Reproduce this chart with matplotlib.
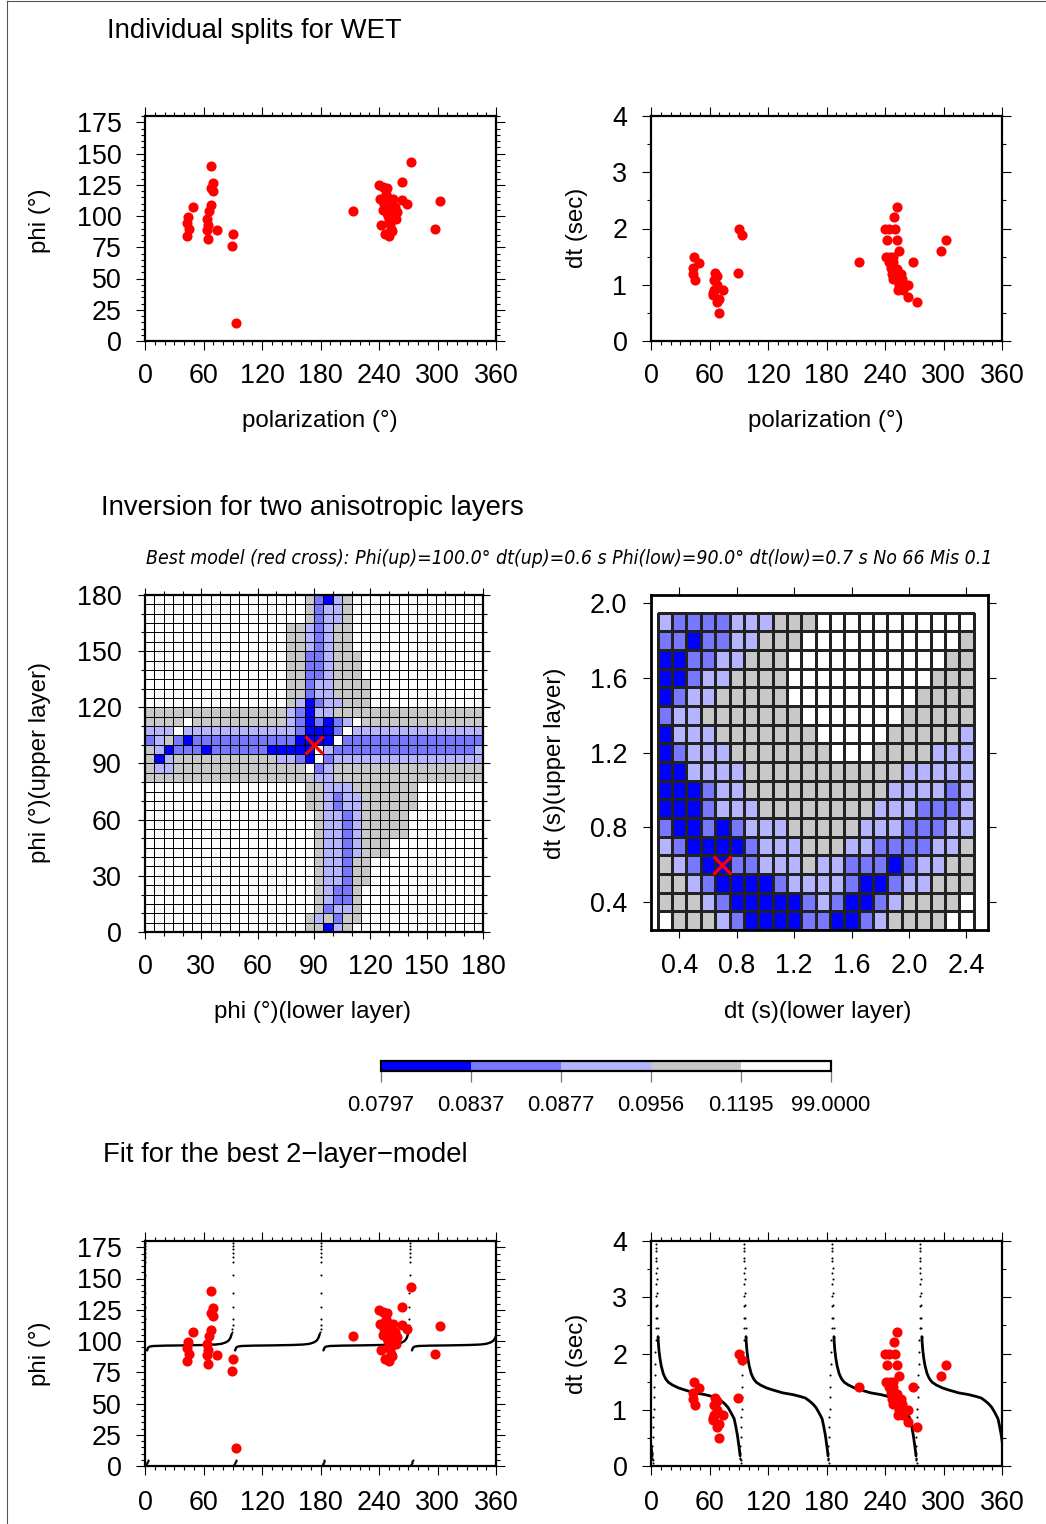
import numpy as np
import matplotlib
matplotlib.use("Agg")
import matplotlib.pyplot as plt
from matplotlib.colors import ListedColormap, BoundaryNorm
from matplotlib.colorbar import ColorbarBase
from matplotlib.lines import Line2D
from matplotlib.ticker import MultipleLocator, FixedLocator, FormatStrFormatter
from matplotlib import font_manager

plt.rcParams["font.family"] = ["Liberation Sans", "DejaVu Sans"]

W, H = 1046, 1524

# ---------------------------------------------------------------- data
station = "WET"

# individual splitting measurements (polarization, fast axis, delay time)
polarization = [42.7, 43.4, 44.4, 45.1, 49.6, 63.3, 63.8, 64.9, 64.9, 66.0,
                67.4, 67.7, 67.7, 70.1, 70.1, 73.5, 89.6, 90.6, 93.3,
                213.7, 240.0, 241.0, 242.0, 244.0, 244.5, 245.0, 246.0, 247.0, 248.0,
                248.0, 248.0, 249.0, 249.5, 250.0, 250.5, 251.0, 252.0, 252.4, 252.6,
                253.4, 254.0, 254.7, 256.0, 257.0, 258.0, 263.3, 263.6, 269.0, 272.8,
                297.4, 302.6]
fast_axis = [83.9, 94.8, 99.3, 90.0, 107.3, 89.2, 97.5, 92.7, 81.3, 104.1,
             109.2, 122.8, 140.0, 126.5, 120.0, 89.2, 75.9, 85.3, 14.6,
             104.4, 125.2, 113.7, 93.2, 123.3, 104.7, 110.0, 85.5, 118.0, 122.5,
             115.3, 102.4, 100.0, 108.0, 84.0, 96.0, 94.0, 112.0, 105.0, 90.0,
             88.0, 101.6, 114.0, 107.5, 98.0, 103.0, 112.5, 127.0, 110.0, 143.0,
             90.0, 112.0]
delay_time = [1.19, 1.29, 1.50, 1.09, 1.39, 0.81, 0.85, 0.90, 1.09, 1.21,
              1.15, 1.00, 0.70, 0.50, 0.75, 0.90, 1.21, 1.99, 1.89,
              1.40, 2.00, 1.50, 1.80, 2.00, 1.40, 1.50, 1.30, 1.20, 1.50,
              1.10, 1.40, 2.20, 1.28, 1.20, 2.00, 1.10, 1.80, 2.39, 1.28,
              0.90, 1.00, 1.60, 1.20, 1.10, 0.90, 1.00, 0.79, 1.40, 0.70,
              1.60, 1.80]

# best two-layer model
best_phi_up, best_dt_up = 100.0, 0.6
best_phi_low, best_dt_low = 90.0, 0.7
n_meas, best_misfit = 66, 0.1

# misfit classes (0 = lowest ... 4 = highest)
misfit_levels = [0.0797, 0.0837, 0.0877, 0.0956, 0.1195, 99.0]
misfit_colors = ["#0000ff", "#7878ff", "#b4b4ff", "#c8c8c8", "#ffffff"]

# grid search over fast axes; rows: phi upper from 180 down to 0, columns: phi lower 0..180
phi_step = 5
misfit_phi_rows = [
    "444444444444444443102344444444444444",
    "444444444444444443122344444444444444",
    "444444444444444443122344444444444444",
    "444444444444444332123344444444444444",
    "444444444444444332123344444444444444",
    "444444444444444332123344444444444444",
    "444444444444444331123334444444444444",
    "444444444444444331123334444444444444",
    "444444444444444331123334444444444444",
    "444444444444444331223333444444444444",
    "444444444444444331223333444444444444",
    "444444444444444320122333444444444444",
    "333333333333333210223333333333333333",
    "333343333333333210101243333333333333",
    "222422222222222210001422222222222222",
    "123101111111111100004111111111111111",
    "320111011111100000421111111111111112",
    "302333333333332210412222222222222222",
    "322333333333333334123333333333333333",
    "333333333333333333223333333333333333",
    "444444444444444443322233333334444444",
    "444444444444444443321223333334444444",
    "444444444444444443321223333334444444",
    "444444444444444444322123333344444444",
    "444444444444444444322123333344444444",
    "444444444444444444322123333344444444",
    "444444444444444444322123334444444444",
    "444444444444444444322123334444444444",
    "444444444444444444322133444444444444",
    "444444444444444444322133444444444444",
    "444444444444444444322133444444444444",
    "444444444444444444321134444444444444",
    "444444444444444444321134444444444444",
    "444444444444444444312234444444444444",
    "444444444444444443231334444444444444",
    "444444444444444443302344444444444444",
]

# grid search over delay times; rows: dt upper 1.9 .. 0.3, columns: dt lower 0.3 .. 2.4
dt_up_values = [1.9, 1.8, 1.7, 1.6, 1.5, 1.4, 1.3, 1.2, 1.1, 1.0, 0.9, 0.8, 0.7, 0.6, 0.5, 0.4, 0.3]
dt_low_values = [0.3, 0.4, 0.5, 0.6, 0.7, 0.8, 0.9, 1.0, 1.1, 1.2, 1.3, 1.4, 1.5, 1.6,
                 1.7, 1.8, 1.9, 2.0, 2.1, 2.2, 2.3, 2.4]
misfit_dt_rows = [
    "2111122233344444444444",
    "1101122333444444444443",
    "0011223334444444444433",
    "0012233334444444444333",
    "0122333334444444443333",
    "1223333333444444433333",
    "0222333333344444333332",
    "0122233333334443333222",
    "0022223333333333322222",
    "0001223333333333222212",
    "0001222333333332221112",
    "1001012223333322211122",
    "2100001222333221111223",
    "3210011222322111012233",
    "3321000012222100122333",
    "3332100000121001233334",
    "4333210000110012333344",
]

# predicted apparent splitting of the best model (one branch per wrap position)
phi_wrap_pol = [-90.0, 0.6, 90.9, 181.5, 272.3]
phi_branch_offset = [1.5, 2.5, 4, 8, 20, 40, 60, 72, 78, 82, 85, 87, 88.3]
phi_branch_value = [92.5, 94.5, 95.5, 96.0, 96.3, 96.5, 96.8, 97.2, 97.8, 98.8, 100.2, 102.5, 105.5]
phi_dot_offset = [88.8, 89.1, 89.3, 89.5, 89.6, 89.7, 89.8, 89.85, 89.9, 89.93, 89.95, 89.97, 89.99,
                  0.4, 0.8, 1.2, 1.6, 2.0, 2.4]
phi_dot_value = [107, 109.5, 112.5, 118, 127, 138.5, 152.5, 163, 167, 170.5, 173.7, 176.4, 178.8,
                 0.5, 1.5, 2.5, 3.5, 4.3, 5.0]

dt_wrap_pol = [-85.2, 5.0, 95.2, 185.4, 275.6]
dt_branch_offset = [2.2, 2.5, 3.2, 4.2, 5.5, 7.6, 10, 12.7, 17, 23, 30, 40, 50, 57, 63, 67,
                    71, 74, 77, 80.3, 82, 83.7, 84.8, 85.6, 86.4]
dt_branch_value = [2.30, 2.20, 2.05, 1.91, 1.78, 1.64, 1.55, 1.49, 1.44, 1.39, 1.35, 1.30,
                   1.27, 1.24, 1.21, 1.16, 1.10, 1.04, 0.95, 0.84, 0.70, 0.54, 0.40, 0.30, 0.18]
dt_dot_offset = [-3.6, -3.6, -3.6, -3.3, -2.9, -2.6, -2.3, -1.9, -1.6, -1.4, -0.9, -0.6, -0.3,
                 -0.1, 0.0, 0.0, 0.0, 0.0, 0.0, 0.0, 0.0, 0.0,
                 0.4, 0.6, 0.8, 1.0, 1.1, 1.4, 1.6, 1.8, 2.1, 86.6, 86.8, 87.0]
dt_dot_value = [0.13, 0.24, 0.36, 0.51, 0.69, 0.87, 1.01, 1.22, 1.40, 1.61, 1.82, 2.03, 2.24,
                2.45, 2.63, 2.84, 3.02, 3.23, 3.43, 3.64, 3.82, 3.95,
                3.88, 3.70, 3.52, 3.32, 3.08, 2.87, 2.63, 2.45, 2.30, 0.14, 0.10, 0.06]

# ---------------------------------------------------------------- helpers
fig = plt.figure(figsize=(W / 100, H / 100), dpi=100)
fig.patch.set_facecolor("white")

LABEL_FS = 19.4
AXLABEL_FS = 17.4
TITLE_FS = 19.8


def add_axes_px(x0, y0, x1, y1):
    return fig.add_axes([x0 / W, 1 - y1 / H, (x1 - x0) / W, (y1 - y0) / H])


def fig_text(x, y, s, **kw):
    return fig.text(x / W, 1 - y / H, s, **kw)


def style_frame(ax, lw=1.6, major=6.5, minor=3.2, pad_x=9.0, pad_y=10.5):
    for sp in ax.spines.values():
        sp.set_linewidth(lw)
    ax.tick_params(which="both", direction="out", top=True, right=True,
                   width=0.8, colors="black", labelsize=LABEL_FS)
    ax.tick_params(which="major", length=major)
    ax.tick_params(which="minor", length=minor)
    ax.tick_params(axis="x", pad=pad_x)
    ax.tick_params(axis="y", pad=pad_y)


def polarization_axes(ax, ytop, ymajor, yminor):
    ax.set_xlim(0, 360)
    ax.set_ylim(0, ytop)
    ax.xaxis.set_major_locator(MultipleLocator(60))
    ax.xaxis.set_minor_locator(MultipleLocator(10))
    ax.yaxis.set_major_locator(MultipleLocator(ymajor))
    ax.yaxis.set_minor_locator(MultipleLocator(yminor))
    style_frame(ax)


def plot_splits(ax, values):
    ax.plot(polarization, values, "o", color="red", ms=7.3, mec="none", zorder=5)


def condensed_italic():
    """Pick a narrow oblique face when one is installed."""
    options = [dict(family="Liberation Sans Narrow", style="italic"),
               dict(family="DejaVu Sans", stretch="condensed", style="oblique")]
    for opt in options:
        fp = font_manager.FontProperties(**opt)
        try:
            path = font_manager.findfont(fp, fallback_to_default=False)
        except ValueError:
            continue
        if "Narrow" in path or "Condensed" in path:
            return fp
    return font_manager.FontProperties(family=["Liberation Sans", "DejaVu Sans"], style="italic")


# ---------------------------------------------------------------- page frame
fig.add_artist(Line2D([7 / W, 7 / W], [0, 1 - 1 / H], color="#555555", lw=0.8))
fig.add_artist(Line2D([7 / W, 1], [1 - 1.2 / H, 1 - 1.2 / H], color="#555555", lw=0.8))

# ---------------------------------------------------------------- individual splits
fig_text(107, 38, "Individual splits for " + station, fontsize=TITLE_FS, ha="left", va="baseline")

ax_tl = add_axes_px(145, 116, 496, 341)
polarization_axes(ax_tl, 180, 25, 5)
plot_splits(ax_tl, fast_axis)

ax_tr = add_axes_px(651, 116, 1002, 341)
polarization_axes(ax_tr, 4, 1, 0.5)
plot_splits(ax_tr, delay_time)

fig_text(320, 421, "polarization (°)", fontsize=AXLABEL_FS, ha="center", va="center")
fig_text(826, 421, "polarization (°)", fontsize=AXLABEL_FS, ha="center", va="center")
fig_text(40, 221, "phi (°)", fontsize=AXLABEL_FS, ha="center", va="center", rotation=90)
fig_text(577, 228, "dt (sec)", fontsize=AXLABEL_FS, ha="center", va="center", rotation=90)

# ---------------------------------------------------------------- inversion
fig_text(101, 515, "Inversion for two anisotropic layers", fontsize=TITLE_FS, ha="left", va="baseline")

subtitle = ("Best model (red cross): Phi(up)=%.1f° dt(up)=%.1f s Phi(low)=%.1f° dt(low)=%.1f s No %d Mis %.1f"
            % (best_phi_up, best_dt_up, best_phi_low, best_dt_low, n_meas, best_misfit))
sub = fig_text(146, 564, subtitle, ha="left", va="baseline", fontproperties=condensed_italic())
sub.set_fontsize(15)
fig.canvas.draw()
sub_w = sub.get_window_extent(renderer=fig.canvas.get_renderer()).width
sub.set_fontsize(15 * 852.0 / sub_w)

cmap = ListedColormap(misfit_colors)
class_norm = BoundaryNorm([-0.5, 0.5, 1.5, 2.5, 3.5, 4.5], cmap.N)

# fast-axis grid
phi_classes = np.array([[int(c) for c in row] for row in misfit_phi_rows])[::-1]
n_phi = phi_classes.shape[1]
phi_edges = np.arange(n_phi + 1) * phi_step

ax_ml = add_axes_px(145, 595, 483, 932)
ax_ml.pcolormesh(phi_edges, phi_edges, phi_classes, cmap=cmap, norm=class_norm,
                 edgecolors="black", linewidth=0.7)
ax_ml.set_xlim(0, 180)
ax_ml.set_ylim(0, 180)
for axis in (ax_ml.xaxis, ax_ml.yaxis):
    axis.set_major_locator(MultipleLocator(30))
    axis.set_minor_locator(MultipleLocator(10))
style_frame(ax_ml, lw=1.6, major=5.0, minor=3.0, pad_x=11.0, pad_y=12.0)
ax_ml.plot(best_phi_low, best_phi_up, marker="x", ms=13.5, mew=2.3, color="red", zorder=6)

# delay-time grid
dt_classes = np.array([[int(c) for c in row] for row in misfit_dt_rows])[::-1]
dt_low = np.array(dt_low_values)
dt_up = np.array(dt_up_values)[::-1]
x_edges = np.append(dt_low - 0.05, dt_low[-1] + 0.05)
y_edges = np.append(dt_up - 0.05, dt_up[-1] + 0.05)

ax_mr = add_axes_px(651, 595, 988, 930)
ax_mr.pcolormesh(x_edges, y_edges, dt_classes, cmap=cmap, norm=class_norm,
                 edgecolors="#222222", linewidth=0.8)
ax_mr.set_xlim(0.203, 2.55)
ax_mr.set_ylim(0.25, 2.045)
ax_mr.xaxis.set_major_locator(FixedLocator([0.4, 0.8, 1.2, 1.6, 2.0, 2.4]))
ax_mr.yaxis.set_major_locator(FixedLocator([0.4, 0.8, 1.2, 1.6, 2.0]))
ax_mr.xaxis.set_major_formatter(FormatStrFormatter("%.1f"))
ax_mr.yaxis.set_major_formatter(FormatStrFormatter("%.1f"))
style_frame(ax_mr, lw=2.0, major=6.0, minor=3.0, pad_x=10.5, pad_y=11.0)
ax_mr.plot(best_dt_low, best_dt_up, marker="x", ms=13.5, mew=2.3, color="red", zorder=6)

fig_text(312, 1012, "phi (°)(lower layer)", fontsize=AXLABEL_FS, ha="center", va="center")
fig_text(818, 1012, "dt (s)(lower layer)", fontsize=AXLABEL_FS, ha="center", va="center")
fig_text(40, 763, "phi (°)(upper layer)", fontsize=AXLABEL_FS, ha="center", va="center", rotation=90)
fig_text(555, 763, "dt (s)(upper layer)", fontsize=AXLABEL_FS, ha="center", va="center", rotation=90)

# colour scale
cax = add_axes_px(381, 1061, 831, 1071)
level_norm = BoundaryNorm(misfit_levels, cmap.N)
cb = ColorbarBase(cax, cmap=cmap, norm=level_norm, boundaries=misfit_levels,
                  spacing="uniform", orientation="horizontal", ticks=misfit_levels)
cb.ax.xaxis.set_major_formatter(FormatStrFormatter("%.4f"))
cb.outline.set_linewidth(1.6)
cb.ax.tick_params(length=8, width=0.9, color="#777777", labelsize=15.8, pad=9)
cb.ax.minorticks_off()

# ---------------------------------------------------------------- best model fit
fig_text(103, 1162, "Fit for the best 2\u2212layer\u2212model", fontsize=TITLE_FS, ha="left", va="baseline")

ax_bl = add_axes_px(145, 1241, 496, 1466)
polarization_axes(ax_bl, 180, 25, 5)
ax_br = add_axes_px(651, 1241, 1002, 1466)
polarization_axes(ax_br, 4, 1, 0.5)
for ax in (ax_bl, ax_br):
    ax.tick_params(axis="x", pad=11.0)

for p0 in phi_wrap_pol:
    ax_bl.plot(p0 + np.array(phi_branch_offset), phi_branch_value, color="black", lw=1.7,
               solid_capstyle="round")
    ax_bl.plot(p0 + np.array(phi_dot_offset), phi_dot_value, "o", color="black", ms=1.5, mec="none")
for p0 in dt_wrap_pol:
    ax_br.plot(p0 + np.array(dt_branch_offset), dt_branch_value, color="black", lw=2.0,
               solid_capstyle="round")
    ax_br.plot(p0 + np.array(dt_dot_offset), dt_dot_value, "o", color="black", ms=1.5, mec="none")

plot_splits(ax_bl, fast_axis)
plot_splits(ax_br, delay_time)

fig_text(40, 1354, "phi (°)", fontsize=AXLABEL_FS, ha="center", va="center", rotation=90)
fig_text(577, 1354, "dt (sec)", fontsize=AXLABEL_FS, ha="center", va="center", rotation=90)

fig.savefig("out.png", dpi=100, facecolor="white")
